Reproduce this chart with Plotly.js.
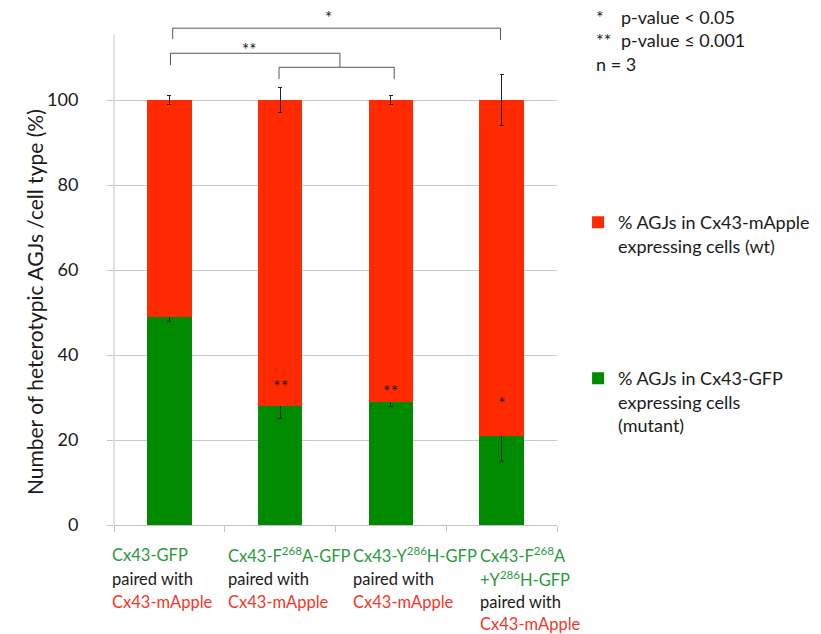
<!DOCTYPE html>
<html>
<head>
<meta charset="utf-8">
<script src="https://cdn.plot.ly/plotly-3.0.1.min.js"></script>
<style>html,body{margin:0;padding:0;background:#fff;}#chart{width:821px;height:634px;}</style>
</head>
<body>
<div id="chart"></div>
<script>
// ---- data ----
const categories = ['Cx43-GFP', 'Cx43-F268A-GFP', 'Cx43-Y286H-GFP', 'Cx43-F268A+Y286H-GFP'];
const gfpPct = [49, 28, 29, 21];          // % AGJs in Cx43-GFP expressing cells (mutant)
const gfpErr = [1, 3, 1, 6];
const mapplePct = [51, 72, 71, 79];       // % AGJs in Cx43-mApple expressing cells (wt)
const mappleErr = [1, 3, 1, 6];
const sigMarks = ['', '**', '**', '*'];
const yTicks = [0, 20, 40, 60, 80, 100];
const gfpNameLines = [['Cx43-GFP'], ['Cx43-F<sup>268</sup>A-GFP'], ['Cx43-Y<sup>286</sup>H-GFP'], ['Cx43-F<sup>268</sup>A', '+Y<sup>286</sup>H-GFP']];
const partnerName = 'Cx43-mApple';
const pairedText = 'paired with';
const seriesNames = ['% AGJs in Cx43-GFP<br>expressing cells<br>(mutant)', '% AGJs in Cx43-mApple<br>expressing cells (wt)'];
const pLegend = ['*<br>**<br>n = 3', 'p-value &lt; 0.05<br>p-value ≤ 0.001'];
const yTitle = 'Number of heterotypic AGJs /cell type (%)';

// ---- styles ----
const GREEN = '#008a00', RED = '#ff2a00';
const TXT_GREEN = '#2a9a3c', TXT_RED = '#f0382a', TXT = '#1a1a1a';
const FONT = 'Lato, "Open Sans", sans-serif';

const traces = [
  {
    type: 'bar', x: categories, y: gfpPct, name: seriesNames[0],
    marker: {color: GREEN}, width: 0.4, legendgroup: 'g', legendrank: 2,
    error_y: {type: 'data', array: gfpErr, visible: true, color: '#222', thickness: 1, width: 2}
  },
  {
    type: 'bar', x: categories, y: mapplePct, name: seriesNames[1],
    marker: {color: RED}, width: 0.4, legendgroup: 'r', legendrank: 1,
    error_y: {type: 'data', array: mappleErr, visible: true, color: '#222', thickness: 1, width: 2}
  }
];

const annotations = [];
// x category labels, one annotation per line for Excel-like line spacing
const labelX = [-0.009, 0.2528, 0.535, 0.8217];
const lineY = [-0.0584, -0.1051, -0.1498, -0.1926];
categories.forEach((c, i) => {
  const lines = gfpNameLines[i].map(t => ({t, col: TXT_GREEN}))
    .concat([{t: pairedText, col: TXT}, {t: partnerName, col: TXT_RED}]);
  lines.forEach((ln, k) => {
    annotations.push({
      xref: 'paper', yref: 'paper', x: labelX[i], y: lineY[k], xanchor: 'left', yanchor: 'middle', align: 'left',
      showarrow: false, font: {family: FONT, size: 16.5, color: ln.col}, text: ln.t
    });
  });
});
// significance marks above the green error bars
categories.forEach((c, i) => {
  if (!sigMarks[i]) return;
  annotations.push({
    xref: 'x', yref: 'y', x: i, y: gfpPct[i] + gfpErr[i] + 1.6, yanchor: 'middle', showarrow: false,
    text: sigMarks[i], font: {family: FONT, size: 18, color: TXT}
  });
});
// bracket labels
annotations.push({xref: 'x', yref: 'y', x: 1.44, y: 119.3, showarrow: false, text: '*', font: {family: FONT, size: 17, color: TXT}});
annotations.push({xref: 'x', yref: 'y', x: 0.72, y: 112.0, showarrow: false, text: '**', font: {family: FONT, size: 17, color: TXT}});
// y title
annotations.push({xref: 'paper', yref: 'paper', x: -0.178, y: 0.434, xanchor: 'center', yanchor: 'middle',
  textangle: -90, showarrow: false, text: yTitle, font: {family: FONT, size: 21, color: TXT}});
// p-value legend
annotations.push({xref: 'paper', yref: 'paper', x: 1.0835, y: 1.013, xanchor: 'left', yanchor: 'top', align: 'left',
  showarrow: false, text: pLegend[0], font: {family: FONT, size: 18, color: TXT}});
annotations.push({xref: 'paper', yref: 'paper', x: 1.14, y: 1.013, xanchor: 'left', yanchor: 'top', align: 'left',
  showarrow: false, text: pLegend[1], font: {family: FONT, size: 18, color: TXT}});

const BR = {color: '#555', width: 1};
function seg(x0, y0, x1, y1) { return {type: 'line', xref: 'x', yref: 'y', x0, y0, x1, y1, line: BR}; }
const shapes = [
  // y axis line
  {type: 'line', xref: 'paper', yref: 'y', x0: 0, x1: 0, y0: 0, y1: 115.5, line: {color: '#c4c4c4', width: 1}},
  // bracket * (0 vs 3)
  seg(0.03, 114.3, 0.03, 116.9), seg(0.03, 116.9, 2.99, 116.9), seg(2.99, 116.9, 2.99, 114.1),
  // bracket ** (0 vs [1,2])
  seg(0.01, 108.2, 0.01, 111.0), seg(0.01, 111.0, 1.54, 111.0), seg(1.54, 111.0, 1.54, 107.7),
  seg(0.99, 104.9, 0.99, 107.7), seg(0.99, 107.7, 2.03, 107.7), seg(2.03, 107.7, 2.03, 104.9)
];

const layout = {
  width: 821, height: 634,
  margin: {l: 114, r: 264, t: 11, b: 109, autoexpand: false},
  paper_bgcolor: '#fff', plot_bgcolor: '#fff',
  barmode: 'stack',
  font: {family: FONT, color: TXT},
  showlegend: true,
  legend: {xref: 'container', yref: 'container', x: 0.7041, y: 0.678, xanchor: 'left', yanchor: 'top',
    traceorder: 'grouped', tracegroupgap: 106, valign: 'top',
    font: {family: FONT, size: 18, color: TXT}, bgcolor: 'rgba(0,0,0,0)'},
  xaxis: {
    type: 'category', range: [-0.5, 3.5], showticklabels: false, showgrid: false, zeroline: false,
    showline: true, linecolor: '#c4c4c4', linewidth: 1, ticks: 'outside', tickson: 'boundaries',
    ticklen: 6, tickcolor: '#c4c4c4', fixedrange: true
  },
  yaxis: {
    range: [0, 120.94], tickvals: yTicks, ticktext: yTicks.map(String), showline: false, zeroline: false,
    showgrid: true, gridcolor: '#c8c8c8', gridwidth: 1, ticks: 'outside', ticklen: 6, tickcolor: '#c4c4c4',
    ticklabelstandoff: 25, tickfont: {family: FONT, size: 18, color: TXT}, fixedrange: true
  },
  annotations, shapes
};

Plotly.newPlot('chart', traces, layout, {displayModeBar: false, staticPlot: true});
</script>
</body>
</html>
